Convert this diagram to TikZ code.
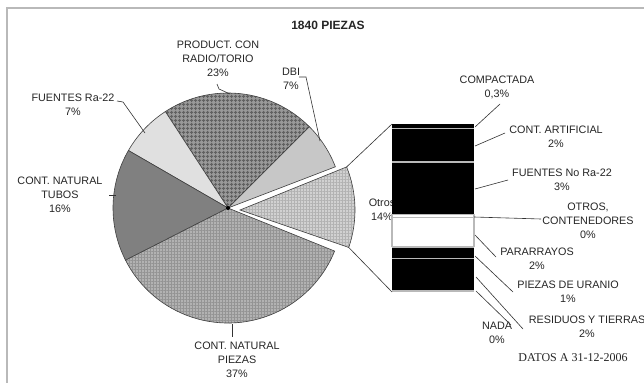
\documentclass[tikz,border=0pt]{standalone}
\usepackage{fontspec}
\setmainfont{Liberation Sans}
\newfontfamily\serifdat{Liberation Serif}
\usetikzlibrary{patterns.meta}
\newcommand\myslice[4]{%
  \path[#4] (#1) -- ++(#2:115) arc[start angle=#2, end angle=#3, radius=115] -- cycle;
  \draw[slice] (#1) -- ++(#2:115) arc[start angle=#2, end angle=#3, radius=115] -- cycle;}
\begin{document}
\begin{tikzpicture}[x=1pt,y=-1pt,
  lbl/.style={align=center, font=\fontsize{10.8}{14}\selectfont, text=black!85, inner sep=0pt},
  lead/.style={draw=black!80, line width=0.6pt},
  slice/.style={draw=black!75, line width=0.6pt},
  sepline/.style={draw=gray!55, line width=1.3pt}]
\useasboundingbox (0,0) rectangle (644,383);
\fill[white] (0,0) rectangle (644,383);
\draw[gray!55, line width=1.5pt] (644,8) -- (7,8) -- (7,383);

% title
\node[font=\bfseries\fontsize{12}{14}\selectfont, text=black!85] (title) at (328,25) {1840 PIEZAS};

% pie
\coordinate (C) at (228,208);
\coordinate (E) at (240,210);
\myslice{C}{-21}{-45}{fill=black!22}
\myslice{C}{-45}{-123}{fill=black!40, postaction={pattern={Hatch[angle=0,distance=4pt,line width=1.2pt]}, pattern color=black!62}}
\myslice{C}{-123}{-150}{fill=black!12}
\myslice{C}{-150}{-207}{fill=black!50}
\myslice{C}{-207}{-338}{fill=black!30, postaction={pattern={Hatch[angle=0,distance=3pt,line width=0.8pt]}, pattern color=black!42}}
\myslice{E}{19}{-22}{fill=black!18, postaction={pattern={Hatch[angle=0,distance=3pt,line width=0.8pt]}, pattern color=black!30}}
\fill[black] (C) circle (2);
\path (E) ++(-22:115) coordinate (OT);
\path (E) ++(19:115) coordinate (OB);

% Otros label (partly hidden by the bar)
\node[lbl] (otros) at (382,209.5) {Otros\\14\%};

% stacked bar
\coordinate (BTL) at (392,124);
\coordinate (BBL) at (392,292);
\fill[black] (392,124) rectangle (474,214);
\fill[white] (392,214) rectangle (474,247);
\fill[black] (392,247) rectangle (474,291);
\draw[sepline] (392,128.5) -- (474,128.5);
\draw[sepline] (392,162) -- (474,162);
\draw[sepline] (392,214.5) -- (474,214.5);
\draw[sepline] (392,217.5) -- (474,217.5);
\draw[sepline] (392,214) -- (392,247);
\draw[sepline] (474,214) -- (474,247);
\draw[sepline] (392,247) -- (474,247);
\draw[sepline] (392,258.5) -- (474,258.5);
\draw[sepline] (392,291) -- (474,291);

% lines from Otros to bar
\draw[lead] (OT) -- (BTL);
\draw[lead] (OB) -- (BBL);

% pie labels
\node[lbl] (prod) at (218,59) {PRODUCT. CON\\RADIO/TORIO\\23\%};
\node[lbl] (dbi) at (291,78.5) {DBI\\7\%};
\node[lbl] (fra) at (73,105) {FUENTES Ra-22\\7\%};
\node[lbl] (tubos) at (60,195) {CONT. NATURAL\\TUBOS\\16\%};
\node[lbl] (piezas) at (237,359.5) {CONT. NATURAL\\PIEZAS\\37\%};

\coordinate (p1) at (217,84); \coordinate (p2) at (219,89); \coordinate (p3) at (230,94);
\draw[lead] (p1) -- (p2) -- (p3);
\coordinate (d1) at (299,77); \coordinate (d2) at (306,77); \coordinate (d3) at (320,141);
\draw[lead] (d1) -- (d2) -- (d3);
\coordinate (f1) at (117,101); \coordinate (f2) at (123,102); \coordinate (f3) at (145,133);
\draw[lead] (f1) -- (f2) -- (f3);
\coordinate (t1) at (109,195); \coordinate (t2) at (116,195);
\draw[lead] (t1) -- (t2);
\coordinate (z1) at (232,324); \coordinate (z2) at (232,337);
\draw[lead] (z1) -- (z2);

% bar labels
\node[lbl] (comp) at (497,87.5) {COMPACTADA\\0,3\%};
\node[lbl] (art) at (556,136.5) {CONT. ARTIFICIAL\\2\%};
\node[lbl] (fno) at (562,179.5) {FUENTES No Ra-22\\3\%};
\node[lbl] (otc) at (588,221) {OTROS,\\CONTENEDORES\\0\%};
\node[lbl] (para) at (537,258.5) {PARARRAYOS\\2\%};
\node[lbl] (ura) at (568,292) {PIEZAS DE URANIO\\1\%};
\node[lbl] (res) at (587,327) {RESIDUOS Y TIERRAS\\2\%};
\node[lbl] (nada) at (497,333) {NADA\\0\%};
\node[font=\serifdat\fontsize{12}{14}\selectfont, text=black!85, inner sep=0pt] (datos) at (573,358) {DATOS A 31-12-2006};

\coordinate (a1) at (475,127); \coordinate (a2) at (500,104);
\coordinate (b1) at (475,146); \coordinate (b2) at (505,133);
\coordinate (c1) at (475,189); \coordinate (c2) at (508,180);
\coordinate (e1) at (474,217); \coordinate (e2) at (541,219);
\coordinate (g1) at (475,235); \coordinate (g2) at (496,257);
\coordinate (h1) at (475,256); \coordinate (h2) at (513,292);
\coordinate (i1) at (476,277); \coordinate (i2) at (523,329);
\coordinate (j1) at (476,291); \coordinate (j2) at (511,325);
\draw[lead] (a1) -- (a2);
\draw[lead] (b1) -- (b2);
\draw[lead] (c1) -- (c2);
\draw[lead] (e1) -- (e2);
\draw[lead] (g1) -- (g2);
\draw[lead] (h1) -- (h2);
\draw[lead] (i1) -- (i2);
\draw[lead] (j1) -- (j2);
\end{tikzpicture}
\end{document}
